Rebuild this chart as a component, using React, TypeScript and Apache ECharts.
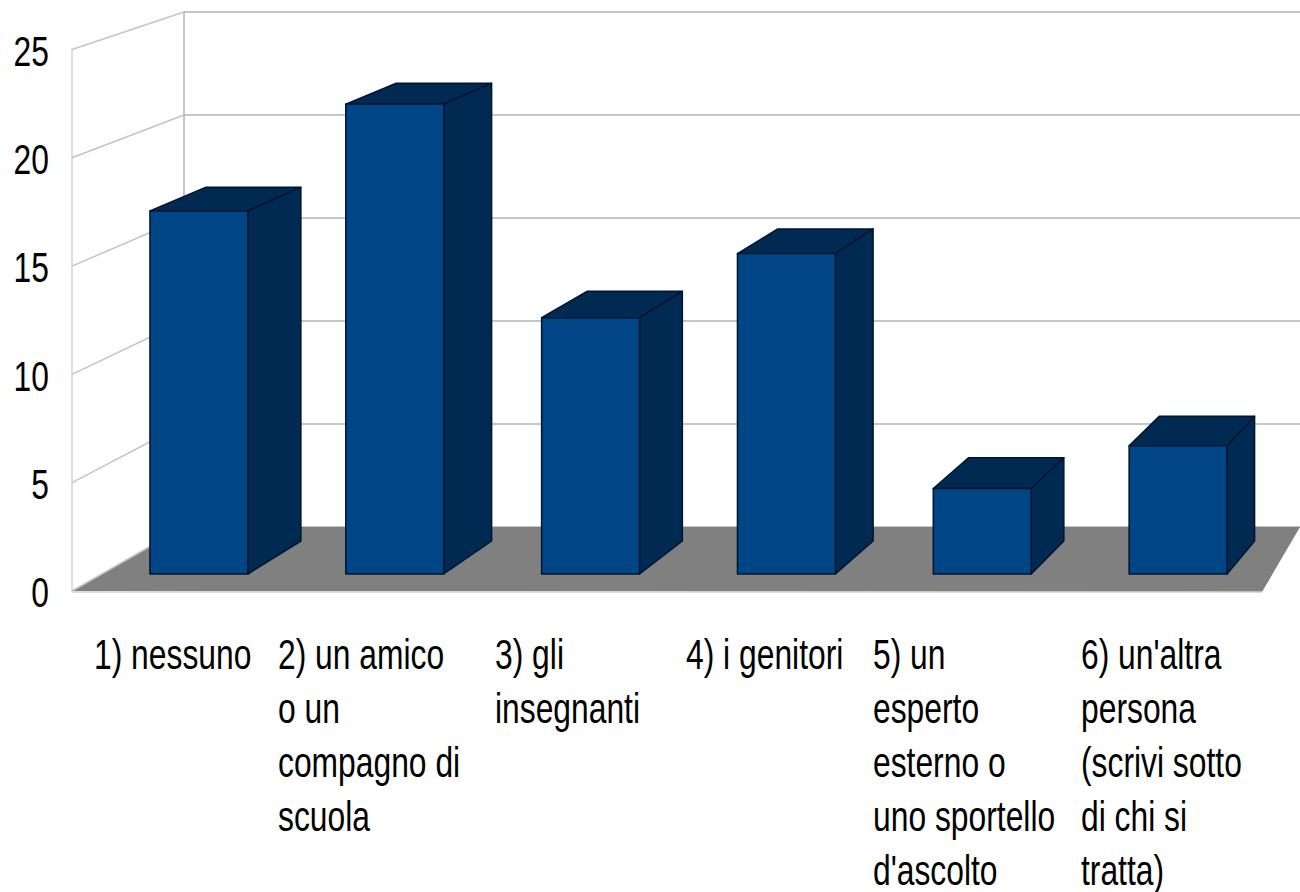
import React, { useEffect, useRef } from "react";
import * as echarts from "echarts";

const categories = ["1) nessuno", "2) un amico\no un\ncompagno di\nscuola", "3) gli\ninsegnanti", "4) i genitori", "5) un\nesperto\nesterno o\nuno sportello\nd'ascolto", "6) un'altra\npersona\n(scrivi sotto\ndi chi si\ntratta)"];
const values = [17, 22, 12, 15, 4, 6];
const yTicks = [0, 5, 10, 15, 20, 25];
const labelLeft = [94, 278, 495, 686, 873, 1081];

const FONT = "43px 'Liberation Sans', Arial, sans-serif";
const SCALE_X = 0.74;
const K = 0.026;
const VX = 2286;
const VY = -695;
const back = (x: number, y: number) => [x + K * (VX - x), y + K * (VY - y)];

export default function App() {
  const ref = useRef<HTMLDivElement>(null);
  useEffect(() => {
    document.body.style.margin = "0";
    const chart = echarts.init(ref.current!, undefined, { renderer: "svg" });
    const hiddenAxis = { show: false };
    chart.setOption({
      animation: false,
      backgroundColor: "#ffffff",
      grid: [
        { left: 184, top: 12, width: 1116, height: 515 },
        { left: 72, top: 49.5, width: 1190, height: 541.5 },
        { left: 101, top: 40, width: 1175, height: 534 },
      ],
      xAxis: [
        { gridIndex: 0, type: "value", min: 0, max: 1, ...hiddenAxis },
        { gridIndex: 1, type: "value", min: 0, max: 1, ...hiddenAxis },
        { gridIndex: 2, type: "category", data: categories, ...hiddenAxis },
      ],
      yAxis: [
        {
          gridIndex: 0, type: "value", min: 0, max: 25, interval: 5,
          axisLabel: { show: false }, axisTick: { show: false },
          axisLine: { show: true, lineStyle: { color: "#b3b3b3", width: 1.5 } },
          splitLine: { show: true, lineStyle: { color: "#b3b3b3", width: 1.5 } },
        },
        {
          gridIndex: 1, type: "value", min: 0, max: 25, interval: 5,
          axisLabel: { show: false }, axisTick: { show: false },
          axisLine: { show: true, lineStyle: { color: "#d2d2d2", width: 1.5 } },
          splitLine: { show: false },
        },
        { gridIndex: 2, type: "value", min: 0, max: 25, ...hiddenAxis },
      ],
      graphic: [
        {
          type: "polygon", silent: true, z: 1,
          shape: { points: [[72, 591], [184, 527], [1300, 527], [1262, 592]] },
          style: { fill: "#808080" },
        },
        {
          type: "line", silent: true, z: 1,
          shape: { x1: 72, y1: 592, x2: 1262, y2: 592 },
          style: { stroke: "#d2d2d2", lineWidth: 1.5 },
        },
        ...categories.flatMap((c, i) =>
          c.split("\n").map((line, j) => ({
            type: "text", x: labelLeft[i], y: 654 + 54 * j, scaleX: SCALE_X, z: 5,
            style: { text: line, font: FONT, fill: "#000000", align: "left", verticalAlign: "middle", lineHeight: 42 },
          }))
        ),
      ],
      series: [
        {
          type: "custom", xAxisIndex: 1, yAxisIndex: 1, z: 2, silent: true,
          data: yTicks.map((v) => [0, v]),
          renderItem: (_p: any, api: any) => {
            const v = api.value(1);
            const p = api.coord([0, v]);
            const by = 527 - (v / 25) * 515;
            return {
              type: "group",
              children: [
                {
                  type: "line",
                  shape: { x1: p[0], y1: p[1], x2: 184, y2: by },
                  style: { stroke: "#c4c4c4", lineWidth: 1.5 },
                },
                {
                  type: "text", x: 49, y: p[1] + 1.5, scaleX: SCALE_X,
                  style: { text: String(v), font: FONT, fill: "#000000", align: "right", verticalAlign: "middle" },
                },
              ],
            };
          },
        },
        {
          type: "custom", xAxisIndex: 2, yAxisIndex: 2, z: 3, silent: true,
          data: values.map((v, i) => [i, v]),
          renderItem: (_p: any, api: any) => {
            const top = api.coord([api.value(0), api.value(1)]);
            const base = api.coord([api.value(0), 0]);
            const w = api.size([1, 0])[0] * 0.5;
            const l = top[0] - w / 2;
            const r = top[0] + w / 2;
            const t = top[1];
            const b = base[1];
            const stroke = { stroke: "#00142e", lineWidth: 1.5, lineJoin: "round" };
            return {
              type: "group",
              children: [
                { type: "polygon", shape: { points: [[l, t], [r, t], back(r, t), back(l, t)] }, style: { fill: "#002a52", ...stroke } },
                { type: "polygon", shape: { points: [[r, t], back(r, t), back(r, b), [r, b]] }, style: { fill: "#002a52", ...stroke } },
                { type: "polygon", shape: { points: [[l, t], [r, t], [r, b], [l, b]] }, style: { fill: "#004586", ...stroke } },
              ],
            };
          },
        },
      ],
    });
    return () => chart.dispose();
  }, []);
  return <div ref={ref} style={{ width: 1300, height: 892 }} />;
}
